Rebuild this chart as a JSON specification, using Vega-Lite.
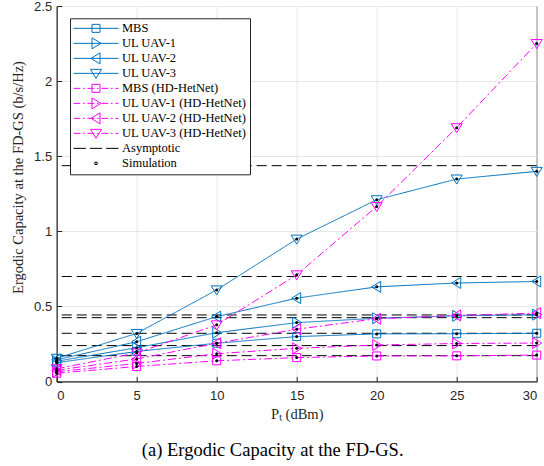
{
  "$schema": "https://vega.github.io/schema/vega-lite/v6.json",
  "width": 480,
  "height": 375.5,
  "autosize": "none",
  "padding": {"left": 56.7, "top": 6, "right": 7.3, "bottom": 84.5},
  "title": {
    "text": "(a) Ergodic Capacity at the FD-GS.",
    "orient": "bottom",
    "anchor": "middle",
    "font": "Liberation Serif",
    "fontSize": 18.5,
    "fontWeight": "normal",
    "color": "black",
    "offset": 20,
    "dx": -24
  },
  "datasets": {
    "curves": [
      {"series": "MBS", "pt": 0, "cap": 0.125},
      {"series": "MBS", "pt": 5, "cap": 0.2},
      {"series": "MBS", "pt": 10, "cap": 0.255},
      {"series": "MBS", "pt": 15, "cap": 0.299},
      {"series": "MBS", "pt": 20, "cap": 0.317},
      {"series": "MBS", "pt": 25, "cap": 0.318},
      {"series": "MBS", "pt": 30, "cap": 0.321},
      {"series": "UL UAV-1", "pt": 0, "cap": 0.135},
      {"series": "UL UAV-1", "pt": 5, "cap": 0.225},
      {"series": "UL UAV-1", "pt": 10, "cap": 0.325},
      {"series": "UL UAV-1", "pt": 15, "cap": 0.392},
      {"series": "UL UAV-1", "pt": 20, "cap": 0.421},
      {"series": "UL UAV-1", "pt": 25, "cap": 0.437},
      {"series": "UL UAV-1", "pt": 30, "cap": 0.445},
      {"series": "UL UAV-2", "pt": 0, "cap": 0.145},
      {"series": "UL UAV-2", "pt": 5, "cap": 0.265},
      {"series": "UL UAV-2", "pt": 10, "cap": 0.432},
      {"series": "UL UAV-2", "pt": 15, "cap": 0.555},
      {"series": "UL UAV-2", "pt": 20, "cap": 0.63},
      {"series": "UL UAV-2", "pt": 25, "cap": 0.656},
      {"series": "UL UAV-2", "pt": 30, "cap": 0.666},
      {"series": "UL UAV-3", "pt": 0, "cap": 0.155},
      {"series": "UL UAV-3", "pt": 5, "cap": 0.32},
      {"series": "UL UAV-3", "pt": 10, "cap": 0.61},
      {"series": "UL UAV-3", "pt": 15, "cap": 0.948},
      {"series": "UL UAV-3", "pt": 20, "cap": 1.21},
      {"series": "UL UAV-3", "pt": 25, "cap": 1.348},
      {"series": "UL UAV-3", "pt": 30, "cap": 1.399},
      {"series": "MBS (HD-HetNet)", "pt": 0, "cap": 0.055},
      {"series": "MBS (HD-HetNet)", "pt": 5, "cap": 0.1},
      {"series": "MBS (HD-HetNet)", "pt": 10, "cap": 0.138},
      {"series": "MBS (HD-HetNet)", "pt": 15, "cap": 0.159},
      {"series": "MBS (HD-HetNet)", "pt": 20, "cap": 0.17},
      {"series": "MBS (HD-HetNet)", "pt": 25, "cap": 0.171},
      {"series": "MBS (HD-HetNet)", "pt": 30, "cap": 0.176},
      {"series": "UL UAV-1 (HD-HetNet)", "pt": 0, "cap": 0.065},
      {"series": "UL UAV-1 (HD-HetNet)", "pt": 5, "cap": 0.12},
      {"series": "UL UAV-1 (HD-HetNet)", "pt": 10, "cap": 0.185},
      {"series": "UL UAV-1 (HD-HetNet)", "pt": 15, "cap": 0.221},
      {"series": "UL UAV-1 (HD-HetNet)", "pt": 20, "cap": 0.243},
      {"series": "UL UAV-1 (HD-HetNet)", "pt": 25, "cap": 0.253},
      {"series": "UL UAV-1 (HD-HetNet)", "pt": 30, "cap": 0.256},
      {"series": "UL UAV-2 (HD-HetNet)", "pt": 0, "cap": 0.075},
      {"series": "UL UAV-2 (HD-HetNet)", "pt": 5, "cap": 0.15},
      {"series": "UL UAV-2 (HD-HetNet)", "pt": 10, "cap": 0.255},
      {"series": "UL UAV-2 (HD-HetNet)", "pt": 15, "cap": 0.348},
      {"series": "UL UAV-2 (HD-HetNet)", "pt": 20, "cap": 0.418},
      {"series": "UL UAV-2 (HD-HetNet)", "pt": 25, "cap": 0.44},
      {"series": "UL UAV-2 (HD-HetNet)", "pt": 30, "cap": 0.455},
      {"series": "UL UAV-3 (HD-HetNet)", "pt": 0, "cap": 0.085},
      {"series": "UL UAV-3 (HD-HetNet)", "pt": 5, "cap": 0.19},
      {"series": "UL UAV-3 (HD-HetNet)", "pt": 10, "cap": 0.377},
      {"series": "UL UAV-3 (HD-HetNet)", "pt": 15, "cap": 0.71},
      {"series": "UL UAV-3 (HD-HetNet)", "pt": 20, "cap": 1.165},
      {"series": "UL UAV-3 (HD-HetNet)", "pt": 25, "cap": 1.69},
      {"series": "UL UAV-3 (HD-HetNet)", "pt": 30, "cap": 2.25}
    ],
    "asymptotes": [
      {"series": "UL UAV-3", "cap": 1.437},
      {"series": "UL UAV-2", "cap": 0.699},
      {"series": "UL UAV-1", "cap": 0.443},
      {"series": "UL UAV-2 (HD-HetNet)", "cap": 0.425},
      {"series": "MBS", "cap": 0.321},
      {"series": "UL UAV-1 (HD-HetNet)", "cap": 0.239},
      {"series": "MBS (HD-HetNet)", "cap": 0.172}
    ],
    "legend_entries": [
      {"entry": "MBS"},
      {"entry": "UL UAV-1"},
      {"entry": "UL UAV-2"},
      {"entry": "UL UAV-3"},
      {"entry": "MBS (HD-HetNet)"},
      {"entry": "UL UAV-1 (HD-HetNet)"},
      {"entry": "UL UAV-2 (HD-HetNet)"},
      {"entry": "UL UAV-3 (HD-HetNet)"},
      {"entry": "Asymptotic"},
      {"entry": "Simulation"}
    ]
  },
  "layer": [
    {
      "data": {"name": "asymptotes"},
      "mark": {"type": "rule", "color": "black", "strokeWidth": 1, "strokeDash": [10, 5]},
      "encoding": {
        "y": {"field": "cap", "type": "quantitative", "scale": {"domain": [0, 2.5]},
          "axis": {"title": "Ergodic Capacity at the FD-GS (b/s/Hz)", "values": [0, 0.5, 1, 1.5, 2, 2.5], "format": "~g", "titleY": 171}}
      }
    },
    {
      "data": {"name": "curves"},
      "mark": {"type": "line", "strokeWidth": 1},
      "encoding": {
        "x": {"field": "pt", "type": "quantitative", "scale": {"domain": [0, 30]},
          "axis": {"title": "Pₜ (dBm)", "values": [0, 5, 10, 15, 20, 25, 30]}},
        "y": {"field": "cap", "type": "quantitative", "scale": {"domain": [0, 2.5]},
          "axis": {"title": "Ergodic Capacity at the FD-GS (b/s/Hz)", "values": [0, 0.5, 1, 1.5, 2, 2.5], "format": "~g", "titleY": 171}},
        "color": {"field": "series", "type": "nominal", "legend": null,
          "scale": {"domain": ["MBS", "UL UAV-1", "UL UAV-2", "UL UAV-3", "MBS (HD-HetNet)", "UL UAV-1 (HD-HetNet)", "UL UAV-2 (HD-HetNet)", "UL UAV-3 (HD-HetNet)"],
            "range": ["#0072BD", "#0072BD", "#0072BD", "#0072BD", "#FF00FF", "#FF00FF", "#FF00FF", "#FF00FF"]}},
        "strokeDash": {"field": "series", "type": "nominal", "legend": null,
          "scale": {"domain": ["MBS", "UL UAV-1", "UL UAV-2", "UL UAV-3", "MBS (HD-HetNet)", "UL UAV-1 (HD-HetNet)", "UL UAV-2 (HD-HetNet)", "UL UAV-3 (HD-HetNet)"],
            "range": [[1, 0], [1, 0], [1, 0], [1, 0], [8, 3, 2, 3], [8, 3, 2, 3], [8, 3, 2, 3], [8, 3, 2, 3]]}}
      }
    },
    {
      "data": {"name": "curves"},
      "mark": {"type": "point", "filled": false, "opacity": 1, "strokeWidth": 1, "size": 100},
      "encoding": {
        "x": {"field": "pt", "type": "quantitative", "scale": {"domain": [0, 30]},
          "axis": {"title": "Pₜ (dBm)", "values": [0, 5, 10, 15, 20, 25, 30]}},
        "y": {"field": "cap", "type": "quantitative", "scale": {"domain": [0, 2.5]},
          "axis": {"title": "Ergodic Capacity at the FD-GS (b/s/Hz)", "values": [0, 0.5, 1, 1.5, 2, 2.5], "format": "~g", "titleY": 171}},
        "color": {"field": "series", "type": "nominal", "legend": null,
          "scale": {"domain": ["MBS", "UL UAV-1", "UL UAV-2", "UL UAV-3", "MBS (HD-HetNet)", "UL UAV-1 (HD-HetNet)", "UL UAV-2 (HD-HetNet)", "UL UAV-3 (HD-HetNet)"],
            "range": ["#0072BD", "#0072BD", "#0072BD", "#0072BD", "#FF00FF", "#FF00FF", "#FF00FF", "#FF00FF"]}},
        "shape": {"field": "series", "type": "nominal", "legend": null,
          "scale": {"domain": ["MBS", "UL UAV-1", "UL UAV-2", "UL UAV-3", "MBS (HD-HetNet)", "UL UAV-1 (HD-HetNet)", "UL UAV-2 (HD-HetNet)", "UL UAV-3 (HD-HetNet)"],
            "range": [
              "M-0.8,-0.8H0.8V0.8H-0.8Z",
              "M-0.8,-1.1L1,0L-0.8,1.1Z",
              "M0.8,-1.1L-1,0L0.8,1.1Z",
              "M-1.1,-0.8H1.1L0,1Z",
              "M-0.8,-0.8H0.8V0.8H-0.8Z",
              "M-0.8,-1.1L1,0L-0.8,1.1Z",
              "M0.8,-1.1L-1,0L0.8,1.1Z",
              "M-1.1,-0.8H1.1L0,1Z"
            ]}}
      }
    },
    {
      "data": {"name": "curves"},
      "mark": {"type": "circle", "color": "black", "opacity": 1, "size": 9},
      "encoding": {
        "x": {"field": "pt", "type": "quantitative", "scale": {"domain": [0, 30]},
          "axis": {"title": "Pₜ (dBm)", "values": [0, 5, 10, 15, 20, 25, 30]}},
        "y": {"field": "cap", "type": "quantitative", "scale": {"domain": [0, 2.5]},
          "axis": {"title": "Ergodic Capacity at the FD-GS (b/s/Hz)", "values": [0, 0.5, 1, 1.5, 2, 2.5], "format": "~g", "titleY": 171}}
      }
    },
    {
      "data": {"name": "legend_entries"},
      "transform": [{"filter": "false"}],
      "mark": {"type": "point", "filled": false, "opacity": 1, "strokeWidth": 1},
      "encoding": {
        "color": {"field": "entry", "type": "nominal",
          "scale": {"domain": ["MBS", "UL UAV-1", "UL UAV-2", "UL UAV-3", "MBS (HD-HetNet)", "UL UAV-1 (HD-HetNet)", "UL UAV-2 (HD-HetNet)", "UL UAV-3 (HD-HetNet)", "Asymptotic", "Simulation"],
            "range": ["#0072BD", "#0072BD", "#0072BD", "#0072BD", "#FF00FF", "#FF00FF", "#FF00FF", "#FF00FF", "black", "black"]},
          "legend": {"title": null, "orient": "none", "legendX": 13.3, "legendY": 12.3, "direction": "vertical",
            "fillColor": "white", "strokeColor": "#262626", "padding": 3, "symbolSize": 2025, "symbolStrokeWidth": 1,
            "symbolOpacity": 1, "symbolOffset": 0, "labelOffset": 3, "labelFont": "Liberation Serif", "labelFontSize": 12.5,
            "labelColor": "black", "clipHeight": 14.1, "rowPadding": 0, "labelLimit": 300}},
        "shape": {"field": "entry", "type": "nominal",
          "scale": {"domain": ["MBS", "UL UAV-1", "UL UAV-2", "UL UAV-3", "MBS (HD-HetNet)", "UL UAV-1 (HD-HetNet)", "UL UAV-2 (HD-HetNet)", "UL UAV-3 (HD-HetNet)", "Asymptotic", "Simulation"],
            "range": [
              "M-1,0H1M-0.178,-0.178H0.178V0.178H-0.178Z",
              "M-1,0H1M-0.178,-0.244L0.222,0L-0.178,0.244Z",
              "M-1,0H1M0.178,-0.244L-0.222,0L0.178,0.244Z",
              "M-1,0H1M-0.244,-0.178H0.244L0,0.222Z",
              "M-1,0H-0.7M-0.58,0H-0.5M-0.38,0H-0.08M0.04,0H0.12M0.24,0H0.54M0.66,0H0.74M0.86,0H1M-0.178,-0.178H0.178V0.178H-0.178Z",
              "M-1,0H-0.7M-0.58,0H-0.5M-0.38,0H-0.08M0.04,0H0.12M0.24,0H0.54M0.66,0H0.74M0.86,0H1M-0.178,-0.244L0.222,0L-0.178,0.244Z",
              "M-1,0H-0.7M-0.58,0H-0.5M-0.38,0H-0.08M0.04,0H0.12M0.24,0H0.54M0.66,0H0.74M0.86,0H1M0.178,-0.244L-0.222,0L0.178,0.244Z",
              "M-1,0H-0.7M-0.58,0H-0.5M-0.38,0H-0.08M0.04,0H0.12M0.24,0H0.54M0.66,0H0.74M0.86,0H1M-0.244,-0.178H0.244L0,0.222Z",
              "M-1,0H-0.45M-0.27,0H0.27M0.45,0H1",
              "M-0.05,-0.05H0.05V0.05H-0.05Z"
            ]},
          "legend": {"title": null, "orient": "none", "legendX": 13.3, "legendY": 12.3, "direction": "vertical",
            "fillColor": "white", "strokeColor": "#262626", "padding": 3, "symbolSize": 2025, "symbolStrokeWidth": 1,
            "symbolOpacity": 1, "symbolOffset": 0, "labelOffset": 3, "labelFont": "Liberation Serif", "labelFontSize": 12.5,
            "labelColor": "black", "clipHeight": 14.1, "rowPadding": 0, "labelLimit": 300}}
      }
    }
  ],
  "resolve": {"scale": {"color": "independent", "shape": "independent"}},
  "config": {
    "view": {"stroke": "#262626", "strokeWidth": 1},
    "axis": {
      "grid": true,
      "gridColor": "#e6e6e6",
      "gridWidth": 1,
      "domainColor": "#262626",
      "tickColor": "#262626",
      "tickSize": -5,
      "labelFont": "Liberation Sans",
      "labelFontSize": 13,
      "labelColor": "#262626",
      "titleFont": "Liberation Serif",
      "titleFontSize": 14.5,
      "titleFontWeight": "normal",
      "titleColor": "#262626"
    },
    "axisX": {"labelPadding": 13, "titlePadding": 5},
    "axisY": {"labelPadding": 10, "titlePadding": 8}
  }
}
